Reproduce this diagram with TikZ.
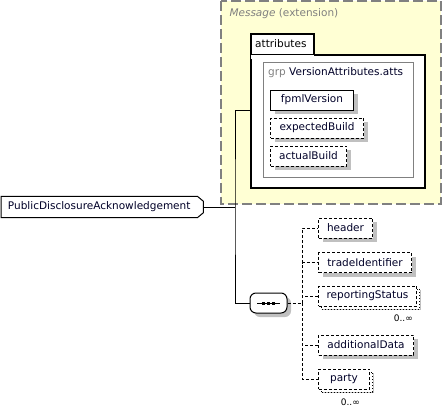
\documentclass[tikz,border=0pt]{standalone}
\usepackage{fontspec}
\setmainfont{DejaVu Sans}
\usetikzlibrary{positioning,shadows}

\definecolor{msgfill}{RGB}{255,255,212}
\definecolor{namecol}{RGB}{0,0,40}
\definecolor{shadowcol}{RGB}{192,192,192}

\begin{document}
\begin{tikzpicture}[
    x=1pt, y=-1pt,
    font=\fontsize{10.5}{12}\selectfont,
    shade/.style={drop shadow={shadow xshift=4pt, shadow yshift=-4pt, fill=shadowcol, opacity=1}},
    elem/.style={draw, line width=1pt, fill=white, minimum height=20pt, inner sep=0pt, anchor=west, text=namecol, shade},
    opt/.style={elem, dash pattern=on 3pt off 2pt},
    many/.style={opt, copy shadow={shadow xshift=3pt, shadow yshift=-3pt, draw, line width=1pt, dash pattern=on 1pt off 2pt, fill=white}},
    con/.style={line width=1pt},
    optcon/.style={line width=1pt, dash pattern=on 3pt off 2pt},
    mult/.style={font=\fontsize{9}{10}\selectfont, anchor=north east, inner sep=1pt}
]
    \useasboundingbox (0,0) rectangle (442,407);

    % extension box
    \draw[gray, line width=1.2pt, dash pattern=on 10pt off 4pt, fill=msgfill] (221,1) rectangle (441,204);
    \node[anchor=west, text=gray] (msg) at (226,14) {\textit{Message} (extension)};

    % attributes
    \node[draw, line width=1.5pt, fill=white, anchor=north west, minimum width=63pt, minimum height=22pt] (tab) at (250,33) {};
    \node[draw, line width=1.5pt, fill=white, anchor=north west, minimum width=174pt, minimum height=133pt] (atts) at (250,54) {};
    \fill[white] ([xshift=0.8pt,yshift=-2pt]tab.south west) rectangle ([xshift=-0.8pt,yshift=2pt]tab.south east);
    \node[anchor=west, inner sep=0pt] at (255,44) {attributes};

    \node[draw=gray, line width=1pt, anchor=north west, minimum width=150pt, minimum height=115pt] (grp) at (263,62) {};
    \node[anchor=west, inner sep=0pt] (grplabel) at (268,73) {\textcolor{gray}{grp} \textcolor{namecol}{VersionAttributes.atts}};

    \node[elem, minimum width=83pt] (fpmlVersion) at (270,100) {fpmlVersion};
    \node[opt, minimum width=93pt] (expectedBuild) at (270,128) {expectedBuild};
    \node[opt, minimum width=76pt] (actualBuild) at (270,156) {actualBuild};

    % root element
    \node[anchor=west, minimum width=196pt, minimum height=21pt, inner sep=0pt] (root) at (1,207) {};
    \fill[shadowcol, shift={(4pt,-4pt)}] (root.north west) -- (root.north east) -- ([shift={(6pt,-5pt)}]root.north east)
        -- ([shift={(6pt,5pt)}]root.south east) -- (root.south east) -- (root.south west) -- cycle;
    \draw[fill=white, line width=1pt] (root.north west) -- (root.north east) -- ([shift={(6pt,-5pt)}]root.north east)
        -- ([shift={(6pt,5pt)}]root.south east) -- (root.south east) -- (root.south west) -- cycle;
    \node[text=namecol, inner sep=0pt] (rootlabel) at (root.center) {PublicDisclosureAcknowledgement};

    % sequence
    \node[rectangle, rounded corners=6pt, draw, fill=white, line width=1pt, minimum width=37pt, minimum height=20pt, inner sep=0pt, shade] (seq) at (268.5,303) {};
    \draw[line width=1pt] ([xshift=-11.5pt]seq.center) -- ([xshift=11.5pt]seq.center);
    \foreach \d in {-5,0,5}
        \fill ([xshift=\d pt]seq.center) +(-1.5,-1.5) rectangle +(1.5,1.5);

    \coordinate (trunk) at (235,207);
    \coordinate (fork) at (302,303);
    \draw[con] ([shift={(6pt,0pt)}]root.east) -- (trunk);
    \draw[con] ([yshift=10.5pt]atts.west) -| (trunk) |- (seq.west);

    % children
    \node[opt, minimum width=54pt] (header) at (318,228) {header};
    \node[opt, minimum width=93pt] (tradeIdentifier) at (318,262.5) {tradeIdentifier};
    \node[many, minimum width=98pt] (reportingStatus) at (318,296) {reportingStatus};
    \node[opt, minimum width=95pt] (additionalData) at (318,345) {additionalData};
    \node[many, minimum width=51pt] (party) at (318,379) {party};

    \node[mult] (rsmult) at ([shift={(-3pt,-7pt)}]reportingStatus.south east) {0..∞};
    \node[mult] (partymult) at ([shift={(-9pt,-8pt)}]party.south east) {0..∞};

    \draw[optcon] (seq.east) -- (fork);
    \foreach \c in {header,tradeIdentifier,reportingStatus,additionalData,party}
        \draw[optcon] (fork) |- (\c.west);

\end{tikzpicture}
\end{document}
